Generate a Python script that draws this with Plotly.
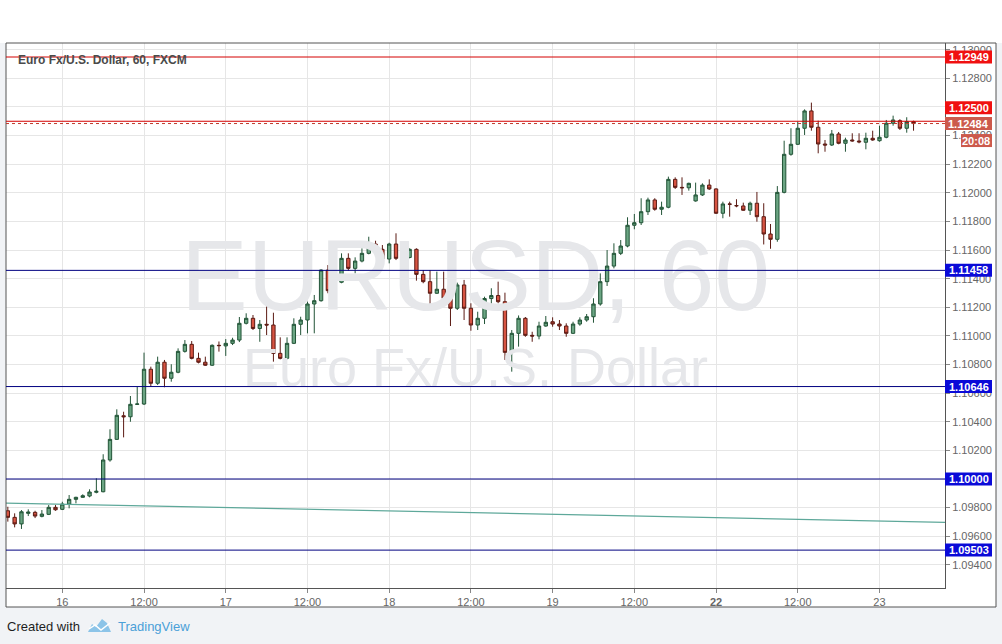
import plotly.graph_objects as go

# ---------------- data (EUR/USD, 60 min candles) ----------------
opens = [1.09778,1.09732,1.09686,1.09760,1.09767,1.09739,1.09753,1.09802,1.09788,1.09825,
         1.09858,1.09872,1.09881,1.09907,1.09911,1.10133,1.10277,1.10442,1.10435,1.10522,
         1.10524,1.10767,1.10669,1.10816,1.10704,1.10746,1.10892,1.10941,1.10843,1.10816,
         1.10795,1.10934,1.10930,1.10948,1.10971,1.11088,1.11123,1.11052,1.11081,1.11076,
         1.10878,1.10843,1.10948,1.11081,1.11111,1.11223,1.11246,1.11460,1.11316,1.11375,
         1.11542,1.11472,1.11523,1.11577,1.11642,1.11605,1.11537,1.11642,1.11542,1.11548,
         1.11605,1.11430,1.11379,1.11298,1.11326,1.11263,1.11193,1.11356,1.11193,1.11076,
         1.11123,1.11261,1.11282,1.11239,1.10885,1.11018,1.11123,1.11004,1.10999,1.11069,
         1.11099,1.11083,1.11069,1.11018,1.11083,1.11111,1.11134,1.11223,1.11379,1.11488,
         1.11577,1.11628,1.11773,1.11791,1.11868,1.11950,1.11885,1.11899,1.12094,1.12038,
         1.12035,1.11943,1.11985,1.12054,1.12027,1.11857,1.11922,1.11911,1.11908,1.11878,
         1.11927,1.11833,1.11712,1.11675,1.12003,1.12269,1.12339,1.12451,1.12572,1.12458,
         1.12341,1.12334,1.12411,1.12346,1.12369,1.12362,1.12353,1.12381,1.12364,1.12388,
         1.12486,1.12504,1.12451,1.12497]
highs = [1.09806,1.09760,1.09783,1.09788,1.09778,1.09783,1.09818,1.09818,1.09841,1.09888,
         1.09876,1.09893,1.09928,1.10005,1.10173,1.10347,1.10487,1.10470,1.10580,1.10645,
         1.10883,1.10785,1.10855,1.10832,1.10802,1.10913,1.10971,1.10964,1.10883,1.10855,
         1.10941,1.10961,1.10978,1.10987,1.11132,1.11158,1.11146,1.11111,1.11216,1.11162,
         1.10990,1.10990,1.11123,1.11134,1.11239,1.11286,1.11465,1.11495,1.11426,1.11577,
         1.11577,1.11549,1.11612,1.11693,1.11665,1.11635,1.11651,1.11717,1.11572,1.11612,
         1.11612,1.11460,1.11460,1.11449,1.11449,1.11396,1.11372,1.11391,1.11228,1.11169,
         1.11274,1.11333,1.11379,1.11302,1.11041,1.11143,1.11132,1.11029,1.11099,1.11139,
         1.11130,1.11111,1.11088,1.11099,1.11130,1.11153,1.11263,1.11437,1.11600,1.11647,
         1.11670,1.11829,1.11852,1.11962,1.11966,1.11962,1.11938,1.12113,1.12108,1.12108,
         1.12071,1.12071,1.12066,1.12094,1.12031,1.11938,1.11938,1.11955,1.11931,1.11938,
         1.12006,1.11927,1.11782,1.12047,1.12364,1.12451,1.12497,1.12583,1.12630,1.12504,
         1.12369,1.12439,1.12425,1.12385,1.12416,1.12416,1.12420,1.12434,1.12469,1.12509,
         1.12539,1.12514,1.12528,1.12504]
lows = [1.09702,1.09662,1.09651,1.09741,1.09727,1.09732,1.09748,1.09778,1.09783,1.09795,
        1.09830,1.09869,1.09872,1.09900,1.09907,1.10121,1.10273,1.10291,1.10400,1.10517,
        1.10517,1.10645,1.10657,1.10641,1.10680,1.10739,1.10883,1.10836,1.10808,1.10790,
        1.10790,1.10890,1.10860,1.10936,1.10957,1.11080,1.11041,1.10959,1.11006,1.10820,
        1.10836,1.10836,1.10943,1.11006,1.11018,1.11018,1.11239,1.11298,1.11309,1.11368,
        1.11456,1.11437,1.11514,1.11570,1.11595,1.11507,1.11507,1.11530,1.11507,1.11542,
        1.11386,1.11368,1.11204,1.11293,1.11251,1.11069,1.11181,1.11111,1.11036,1.11041,
        1.11083,1.11204,1.11228,1.10832,1.10750,1.10925,1.10994,1.10959,1.10976,1.11064,
        1.11064,1.11041,1.10994,1.11013,1.11071,1.11099,1.11092,1.11211,1.11349,1.11472,
        1.11565,1.11619,1.11745,1.11775,1.11845,1.11875,1.11845,1.11892,1.12027,1.11985,
        1.12015,1.11938,1.11978,1.12020,1.11852,1.11822,1.11833,1.11899,1.11875,1.11845,
        1.11798,1.11639,1.11609,1.11658,1.11996,1.12259,1.12334,1.12404,1.12434,1.12276,
        1.12287,1.12327,1.12339,1.12287,1.12357,1.12346,1.12304,1.12364,1.12357,1.12381,
        1.12469,1.12439,1.12420,1.12434]
closes = [1.09732,1.09686,1.09771,1.09769,1.09741,1.09755,1.09802,1.09785,1.09825,1.09858,
          1.09872,1.09883,1.09909,1.09914,1.10133,1.10277,1.10445,1.10435,1.10522,1.10524,
          1.10767,1.10669,1.10816,1.10704,1.10746,1.10892,1.10941,1.10843,1.10816,1.10795,
          1.10934,1.10932,1.10948,1.10971,1.11088,1.11123,1.11052,1.11081,1.11076,1.10878,
          1.10843,1.10948,1.11081,1.11111,1.11223,1.11246,1.11460,1.11316,1.11375,1.11542,
          1.11472,1.11523,1.11577,1.11642,1.11605,1.11537,1.11642,1.11542,1.11548,1.11605,
          1.11430,1.11379,1.11298,1.11326,1.11263,1.11193,1.11356,1.11193,1.11076,1.11123,
          1.11261,1.11282,1.11239,1.10885,1.11018,1.11123,1.11004,1.10999,1.11069,1.11095,
          1.11083,1.11069,1.11018,1.11083,1.11111,1.11134,1.11223,1.11379,1.11488,1.11577,
          1.11628,1.11773,1.11791,1.11868,1.11950,1.11885,1.11899,1.12094,1.12038,1.12035,
          1.12066,1.11985,1.12054,1.12027,1.11857,1.11922,1.11920,1.11909,1.11878,1.11927,
          1.11833,1.11712,1.11675,1.12003,1.12269,1.12339,1.12451,1.12572,1.12458,1.12341,
          1.12334,1.12411,1.12346,1.12369,1.12363,1.12356,1.12381,1.12369,1.12388,1.12486,
          1.12509,1.12451,1.12497,1.12484]
bar_index = list(range(len(opens)))

time_tick_index = [8, 20, 32, 44, 56, 68, 80, 92, 104, 116, 128]
time_tick_text = ["16", "12:00", "17", "12:00", "18", "12:00", "19", "12:00",
                  "<b>22</b>", "12:00", "23"]
price_ticks = [1.094, 1.096, 1.098, 1.100, 1.102, 1.104, 1.106, 1.108, 1.110,
               1.112, 1.114, 1.116, 1.118, 1.120, 1.122, 1.124, 1.126, 1.128, 1.130]

red_levels = [1.12949, 1.12500]
blue_levels = [1.11458, 1.10646, 1.10000, 1.09503]
last_price = 1.12484
countdown = "20:08"
trend_bars = [-0.27, 137.62]
trend_prices = [1.09832, 1.09697]

title_text = "Euro Fx/U.S. Dollar, 60, FXCM"
wm_main = "EURUSD, 60"
wm_sub = "Euro Fx/U.S. Dollar"

# ---------------- layout geometry (pixels) ----------------
W, H = 1002, 644
L, R, T, B = 6, 945, 43, 588
x_range = [-0.27, 137.62]
y_range = [1.092383, 1.130468]


def px(x):
    return (x - L) / (R - L)


def py(y):
    return (B - y) / (B - T)


FONT = "Liberation Sans, Arial, sans-serif"

fig = go.Figure()

# watermark (drawn below candles)
xm = (x_range[0] + x_range[1]) / 2
y_main = y_range[0] + 0.556 * (y_range[1] - y_range[0])
y_sub = y_range[0] + 0.396 * (y_range[1] - y_range[0])
fig.add_trace(go.Scatter(
    x=[xm, xm], y=[y_main, y_sub], mode="text", text=[wm_main, wm_sub],
    textfont=dict(size=[100, 54], color="#e6e7ea", family=FONT),
    hoverinfo="skip", showlegend=False))

# trend line
fig.add_trace(go.Scatter(
    x=trend_bars, y=trend_prices, mode="lines",
    line=dict(color="#5ea89a", width=1.2), hoverinfo="skip", showlegend=False))

fig.add_trace(go.Candlestick(
    x=bar_index, open=opens, high=highs, low=lows, close=closes,
    increasing=dict(line=dict(color="#225437", width=1), fillcolor="#6ba583"),
    decreasing=dict(line=dict(color="#5b1a13", width=1), fillcolor="#d75442"),
    whiskerwidth=0, showlegend=False, hoverinfo="skip"))

shapes = []
# page backgrounds
shapes.append(dict(type="rect", xref="paper", yref="paper", layer="below",
                   x0=px(0), x1=px(W), y0=py(0), y1=py(T), fillcolor="white",
                   line=dict(width=0)))
shapes.append(dict(type="rect", xref="paper", yref="paper", layer="below",
                   x0=px(L), x1=px(996), y0=py(T), y1=py(607), fillcolor="white",
                   line=dict(width=0)))
# outer frame
shapes.append(dict(type="rect", xref="paper", yref="paper", layer="above",
                   x0=px(L), x1=px(996), y0=py(T), y1=py(607),
                   line=dict(color="#555555", width=1)))

for lv in red_levels:
    shapes.append(dict(type="line", xref="paper", yref="y", x0=0, x1=1, y0=lv, y1=lv,
                       line=dict(color="#d40000", width=1)))
shapes.append(dict(type="line", xref="paper", yref="y", x0=0, x1=1,
                   y0=last_price, y1=last_price,
                   line=dict(color="#c0392b", width=1, dash="dot")))
for lv in blue_levels:
    shapes.append(dict(type="line", xref="paper", yref="y", x0=0, x1=1, y0=lv, y1=lv,
                       line=dict(color="#000080", width=1)))

annotations = []


def tag(level, color, text, off=0.0, left=945):
    # off: pixel offset of the tag centre from its price (positive = up)
    shapes.append(dict(type="rect", xref="paper", yref="y", layer="above",
                       x0=px(left), x1=px(992), ysizemode="pixel", yanchor=level,
                       y0=off - 6.5, y1=off + 6.5, fillcolor=color, line=dict(width=0)))
    annotations.append(dict(xref="paper", yref="y", x=px((left + 992) / 2), y=level,
                            yshift=off, text="<b>%s</b>" % text, showarrow=False,
                            xanchor="center", yanchor="middle",
                            font=dict(color="white", size=11, family=FONT)))


tag(red_levels[0], "#f01010", "%.5f" % red_levels[0])
tag(red_levels[1], "#f01010", "%.5f" % red_levels[1], off=13.5)
tag(last_price, "#cc5a4c", "%.5f" % last_price)
tag(last_price, "#cc5a4c", countdown, off=-17, left=961)
for lv in blue_levels:
    tag(lv, "#0a0ad8", "%.5f" % lv)

# title
annotations.append(dict(xref="paper", yref="paper", x=px(16), y=py(60), xanchor="left",
                        yanchor="middle", text="<b>" + title_text + "</b>",
                        showarrow=False, font=dict(size=12, color="#4a4a4a", family=FONT)))

# footer
annotations.append(dict(xref="paper", yref="paper", x=px(5), y=py(626), xanchor="left",
                        yanchor="middle", text="Created with", showarrow=False,
                        font=dict(size=13, color="#1e1e1e", family=FONT)))
annotations.append(dict(xref="paper", yref="paper", x=px(116), y=py(626), xanchor="left",
                        yanchor="middle", text="TradingView", showarrow=False,
                        font=dict(size=13, color="#4aa0d8", family=FONT)))


def path_from(points):
    s = "M %f %f " % (px(points[0][0]), py(points[0][1]))
    for p in points[1:]:
        s += "L %f %f " % (px(p[0]), py(p[1]))
    return s + "Z"


shapes.append(dict(type="path", xref="paper", yref="paper", layer="above",
                   path=path_from([(88, 632), (92, 624), (96, 627), (102, 619), (107, 623),
                                   (111, 632)]),
                   fillcolor="#8cc4e8", line=dict(width=0)))
shapes.append(dict(type="path", xref="paper", yref="paper", layer="above",
                   path="M %f %f L %f %f L %f %f L %f %f" % (
                       px(89), py(629), px(95), py(625), px(101), py(630), px(110), py(623)),
                   line=dict(color="white", width=1.5)))

fig.update_layout(
    width=W, height=H,
    margin=dict(l=L, r=W - R, t=T, b=H - B, pad=0),
    paper_bgcolor="#f1f3f6", plot_bgcolor="white",
    shapes=shapes, annotations=annotations, showlegend=False,
    font=dict(family=FONT),
    xaxis=dict(range=x_range, tickmode="array", tickvals=time_tick_index,
               ticktext=time_tick_text, showgrid=True, gridcolor="#e6e6e6",
               gridwidth=1, zeroline=False, showline=True, linecolor="#555555",
               ticks="outside", ticklen=4, tickcolor="#888888",
               tickfont=dict(size=11, color="#666666"), rangeslider=dict(visible=False),
               fixedrange=True),
    yaxis=dict(range=y_range, side="right", tickmode="array", tickvals=price_ticks,
               tickformat=".5f", showgrid=True, gridcolor="#e6e6e6", gridwidth=1,
               zeroline=False, showline=True, linecolor="#555555", ticks="outside",
               ticklen=4, tickcolor="#888888", tickfont=dict(size=11, color="#666666"),
               fixedrange=True),
)

fig.write_html("out.html", config={"displayModeBar": False},
               post_script="document.body.style.margin='0';document.body.style.overflow='hidden';")
